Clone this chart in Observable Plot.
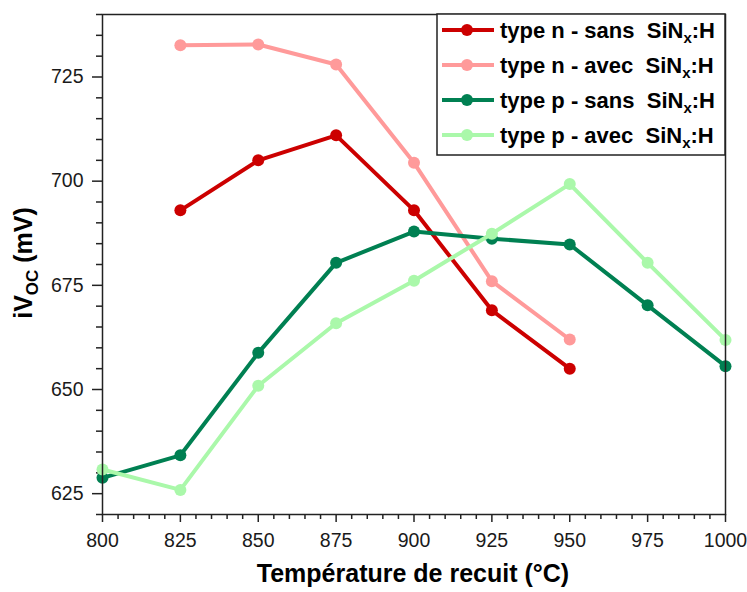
<!DOCTYPE html>
<html>
<head>
<meta charset="utf-8">
<script src="https://cdn.jsdelivr.net/npm/d3@7"></script>
<script src="https://cdn.jsdelivr.net/npm/@observablehq/plot@0.6"></script>
<style>
  html, body { margin: 0; padding: 0; background: white; }
  #chart { width: 747px; height: 592px; }
</style>
</head>
<body>
<div id="chart"></div>
<script>
// ---- Data ----
const temps = [800, 825, 850, 875, 900, 925, 950, 975, 1000];
const nSans = [null, 693, 705, 711, 693, 669, 655, null, null];
const nAvec = [null, 732.6, 732.8, 728, 704.4, 676, 662, null, null];
const pSans = [628.8, 634.2, 658.8, 680.4, 687.9, 686.2, 684.8, 670.2, 655.6];
const pAvec = [630.8, 625.9, 650.9, 665.9, 676.1, 687.4, 699.3, 680.4, 661.9];

const seriesNames = ["type n - sans", "type n - avec", "type p - sans", "type p - avec"];
const seriesColors = ["#cc0000", "#ff9a9a", "#008052", "#aaf8aa"];
const seriesValues = [nSans, nAvec, pSans, pAvec];

const xMajor = [800, 825, 850, 875, 900, 925, 950, 975, 1000];
const yMajor = [625, 650, 675, 700, 725];
const xMinor = d3.range(800, 1001, 5).filter(v => !xMajor.includes(v));
const yMinor = d3.range(620, 741, 5).filter(v => !yMajor.includes(v));
const xMin = 800, yMin = 620;

const xTitle = "Température de recuit (°C)";

// long table
const rows = [];
seriesValues.forEach((vals, i) => {
  vals.forEach((v, j) => {
    if (v != null) rows.push({series: seriesNames[i], T: temps[j], v});
  });
});

const seriesMarks = [];
seriesNames.forEach((name, i) => {
  const d = rows.filter(r => r.series === name);
  seriesMarks.push(Plot.line(d, {x: "T", y: "v", stroke: seriesColors[i], strokeWidth: 4, strokeLinejoin: "round"}));
  seriesMarks.push(Plot.dot(d, {x: "T", y: "v", fill: seriesColors[i], r: 6, stroke: "none"}));
});

const chart = Plot.plot({
  width: 747,
  height: 592,
  marginLeft: 102,
  marginRight: 22,
  marginTop: 14,
  marginBottom: 78,
  style: {fontFamily: "'Liberation Sans', Arial, sans-serif", fontSize: "19.5px", color: "#1a1a1a", background: "white"},
  x: {domain: [800, 1000]},
  y: {domain: [620, 740]},
  marks: [
    // minor ticks (outward), drawn as short rules through the plot's scales
    Plot.ruleX(xMinor, {x: d => d, y1: yMin, y2: yMin, insetTop: 0, insetBottom: -5, stroke: "#222", strokeWidth: 1.5}),
    Plot.ruleY(yMinor, {y: d => d, x1: xMin, x2: xMin, insetLeft: -6, insetRight: 0, stroke: "#222", strokeWidth: 1.5}),
    Plot.axisX({ticks: xMajor, tickSize: 8, tickPadding: 11, tickFormat: d => String(d), label: null, strokeWidth: 1.5, stroke: "#222"}),
    Plot.axisY({ticks: yMajor, tickSize: 10, tickPadding: 9, tickFormat: d => String(d), label: null, strokeWidth: 1.5, stroke: "#222"}),
    ...seriesMarks,
    Plot.frame({stroke: "#222", strokeWidth: 1.5})
  ]
});

document.getElementById("chart").appendChild(chart);

const svg = d3.select(chart);
const FONT = "'Liberation Sans', Arial, sans-serif";

// X title
svg.append("text")
  .attr("x", 413).attr("y", 582)
  .attr("text-anchor", "middle")
  .style("font-family", FONT)
  .style("font-size", "25px").style("font-weight", "bold").style("fill", "#000")
  .text(xTitle);

// Y title with subscript
const yt = svg.append("text")
  .attr("transform", "translate(32,263) rotate(-90)")
  .attr("text-anchor", "middle")
  .style("font-family", FONT)
  .style("font-size", "25px").style("font-weight", "bold").style("fill", "#000");
yt.append("tspan").text("iV");
yt.append("tspan").attr("dy", 6).style("font-size", "17px").text("OC");
yt.append("tspan").attr("dy", -6).text(" (mV)");

// Legend
const lg = svg.append("g");
lg.append("rect").attr("x", 437).attr("y", 14).attr("width", 288).attr("height", 141)
  .attr("fill", "white").attr("stroke", "#222").attr("stroke-width", 1.5);
seriesNames.forEach((name, i) => {
  const y = 30 + i * 35;
  lg.append("line").attr("x1", 442).attr("x2", 494).attr("y1", y).attr("y2", y)
    .attr("stroke", seriesColors[i]).attr("stroke-width", 4);
  lg.append("circle").attr("cx", 467).attr("cy", y).attr("r", 6).attr("fill", seriesColors[i]);
  const t = lg.append("text").attr("x", 500).attr("y", y + 7.5)
    .attr("text-anchor", "start")
    .style("text-anchor", "start")
    .style("font-family", FONT)
    .style("font-size", "22px").style("font-weight", "bold").style("fill", "#000");
  t.append("tspan").text(name + "\u00a0\u00a0SiN");
  t.append("tspan").attr("dy", 5).style("font-size", "15px").text("x");
  t.append("tspan").attr("dy", -5).text(":H");
});
</script>
</body>
</html>
